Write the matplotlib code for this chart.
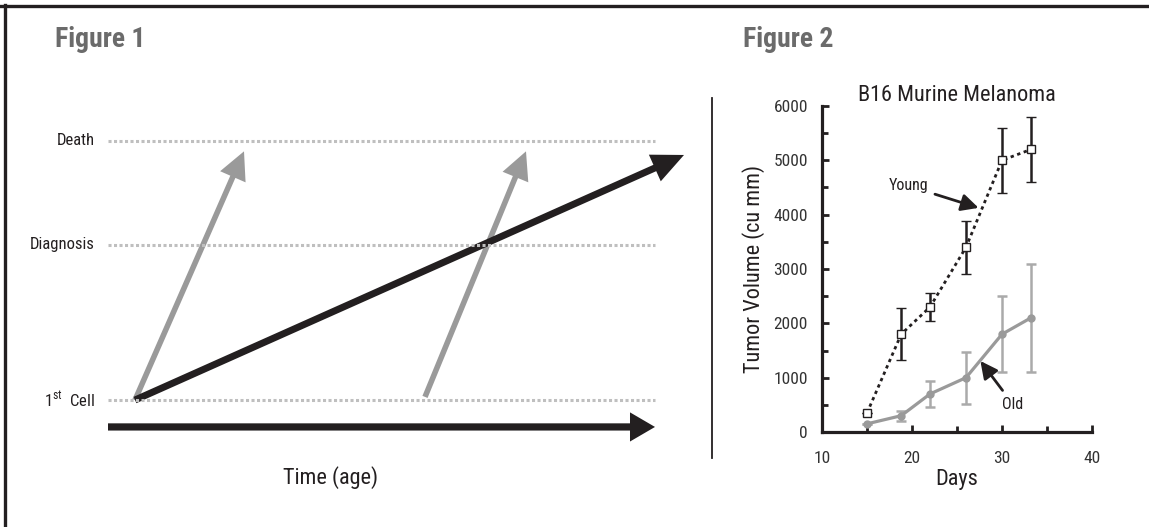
import matplotlib
matplotlib.use("Agg")
import matplotlib.pyplot as plt
from matplotlib import font_manager as fm
from matplotlib.lines import Line2D
from matplotlib.patches import FancyArrowPatch

# pick a condensed sans family that is installed
FAMILY = "DejaVu Sans"
for cand in ["Roboto Condensed", "Fira Sans Condensed", "PT Sans Narrow",
             "Archivo Narrow", "IBM Plex Sans Condensed"]:
    try:
        fm.findfont(fm.FontProperties(family=cand), fallback_to_default=False)
        FAMILY = cand
        break
    except ValueError:
        pass

plt.rcParams["font.family"] = [FAMILY, "DejaVu Sans"]
plt.rcParams["mathtext.fontset"] = "custom"
plt.rcParams["mathtext.rm"] = FAMILY

# ---- Figure 1: schematic (time units, stage levels) ----
stage_names = ["1$^{\\rm st}$  Cell", "Diagnosis", "Death"]
stage_levels = [0.0, 3.0, 5.0]
time_span = [0.0, 54.7]
time_axis_y = -0.52
# (start time, start level, end time, end level)
slow_tumor = (2.7, 0.0, 57.6, 4.73)
fast_tumors = [(2.7, 0.0, 13.6, 4.8), (31.7, 0.06, 41.8, 4.8)]

# ---- Figure 2: B16 murine melanoma growth ----
days = [15, 18.8, 22, 26, 30, 33.2]
young_vol = [350, 1800, 2300, 3400, 5000, 5200]
young_err = [0, 480, 250, 490, 600, 590]
old_vol = [150, 300, 700, 1000, 1800, 2100]
old_err = [0, 90, 245, 480, 700, 1000]

BLACK = "#231f20"
GRAY = "#9a9a9a"
LIGHT = "#bfbfbf"
TITLE_GRAY = "#6b6b6b"

W, H = 1149, 527
fig = plt.figure(figsize=(W / 100, H / 100), dpi=100)

# frame lines (top and left)
fig.add_artist(Line2D([0, 1], [1 - 6 / H, 1 - 6 / H], color=BLACK, lw=2.4))
fig.add_artist(Line2D([5 / W, 5 / W], [0, 1 - 5 / H], color=BLACK, lw=2.4))

fig.text(55 / W, 1 - 47 / H, "Figure 1", fontsize=20, fontweight="semibold",
         color=TITLE_GRAY, va="baseline")
fig.text(743 / W, 1 - 47 / H, "Figure 2", fontsize=20, fontweight="semibold",
         color=TITLE_GRAY, va="baseline")

# ---------------- left schematic ----------------
ax1 = fig.add_axes([100 / W, (H - 460) / H, 600 / W, 340 / H])
ax1.set_xlim(-0.8, 59.2)
ax1.set_ylim(-1.158, 5.405)
ax1.axis("off")

for name, lvl in zip(stage_names, stage_levels):
    ax1.plot(time_span, [lvl, lvl], color=LIGHT, lw=2.2,
             linestyle=(0, (1.0, 0.8)), solid_capstyle="butt")
    ax1.text(-1.3, lvl, name, ha="right", va="center", fontsize=12,
             color=BLACK)


def arrow(ax, x0, y0, x1, y1, color, tail, hw, hl):
    p = FancyArrowPatch((x0, y0), (x1, y1),
                        arrowstyle=f"simple,head_width={hw},head_length={hl},tail_width={tail}",
                        mutation_scale=1, color=color, shrinkA=0, shrinkB=0,
                        lw=0, clip_on=False)
    ax.add_patch(p)


for x0, y0, x1, y1 in fast_tumors:
    arrow(ax1, x0, y0, x1, y1, GRAY, 4.0, 20, 20)
x0, y0, x1, y1 = slow_tumor
arrow(ax1, x0, y0, x1, y1, BLACK, 5.0, 21, 23)
arrow(ax1, time_span[0], time_axis_y, time_span[1], time_axis_y, BLACK, 5.2, 21, 18)

ax1.text(22.3, -1.5, "Time (age)", ha="center", va="center", fontsize=16,
         color=BLACK)

# separator
fig.add_artist(Line2D([712 / W, 712 / W], [1 - 98 / H, 1 - 458 / H],
                      color=BLACK, lw=1.3))

# ---------------- right chart ----------------
ax2 = fig.add_axes([822 / W, (H - 432) / H, 270 / W, 326 / H])
ax2.set_xlim(10, 40)
ax2.set_ylim(0, 6000)

ax2.errorbar(days, old_vol, yerr=old_err, color=GRAY, lw=2.3, marker="o",
             ms=5, mfc=GRAY, mec=GRAY, ecolor="#aaaaaa", elinewidth=1.8,
             capsize=3.5, capthick=1.8, zorder=2)
ax2.errorbar(days, young_vol, yerr=young_err, color=BLACK, lw=2.0,
             linestyle=(0, (1.2, 1.3)), marker="s", ms=6, mfc="white",
             mec=BLACK, mew=1.0, ecolor=BLACK, elinewidth=1.8, capsize=3.5,
             capthick=1.8, zorder=3)

for side in ("top", "right"):
    ax2.spines[side].set_visible(False)
for side in ("left", "bottom"):
    ax2.spines[side].set_linewidth(2.3)
    ax2.spines[side].set_color(BLACK)

ax2.set_xticks([10, 20, 30, 40])
ax2.set_xticks([15, 25, 35], minor=True)
ax2.set_yticks(range(0, 6001, 1000))
ax2.set_yticks(range(500, 6000, 1000), minor=True)
ax2.tick_params(which="both", direction="in", color=BLACK, width=2,
                labelsize=12.5, labelcolor="#333333")
ax2.tick_params(which="major", length=5)
ax2.tick_params(which="minor", length=4)
ax2.tick_params(axis="y", pad=10)
ax2.tick_params(axis="x", pad=14)

ax2.set_title("B16 Murine Melanoma", fontsize=16, color=BLACK, pad=-4)
ax2.set_xlabel("Days", fontsize=16, color=BLACK, labelpad=2)
ax2.set_ylabel("Tumor Volume (cu mm)", fontsize=16, color=BLACK, labelpad=6)

ax2.annotate("Young", xy=(27.4, 4125), xytext=(19.6, 4530), fontsize=11.5,
             color=BLACK, ha="center", va="center",
             arrowprops=dict(arrowstyle="-|>,head_length=0.9,head_width=0.45",
                             color=BLACK, lw=2, shrinkA=3, shrinkB=0))
ax2.annotate("Old", xy=(27.6, 1307), xytext=(31.2, 515), fontsize=11.5,
             color=BLACK, ha="center", va="center",
             arrowprops=dict(arrowstyle="-|>,head_length=0.9,head_width=0.45",
                             color=BLACK, lw=2, shrinkA=3, shrinkB=0))

fig.savefig("out.png", dpi=100)
